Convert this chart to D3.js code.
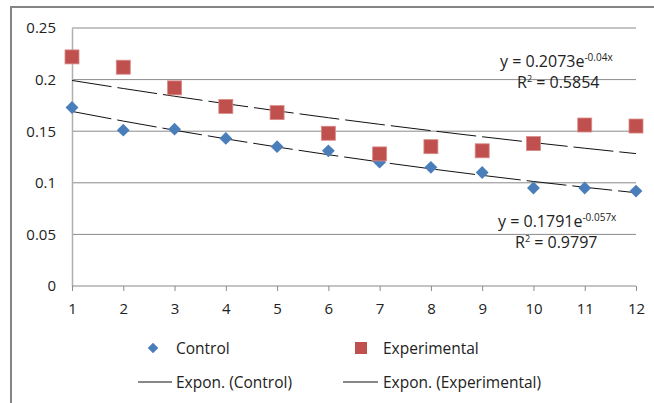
<!DOCTYPE html>
<html>
<head>
<meta charset="utf-8">
<script src="https://cdn.jsdelivr.net/npm/d3@7/dist/d3.min.js"></script>
<style>
  body { margin: 0; background: #fff; }
  text { font-family: "Open Sans", "Liberation Sans", sans-serif; fill: #222; }
</style>
</head>
<body>
<svg id="chart" width="654" height="403"></svg>
<script>
const days = [1, 2, 3, 4, 5, 6, 7, 8, 9, 10, 11, 12];
const control = [0.173, 0.151, 0.152, 0.143, 0.135, 0.131, 0.120, 0.115, 0.110, 0.095, 0.095, 0.092];
const experimental = [0.222, 0.212, 0.192, 0.174, 0.168, 0.148, 0.128, 0.135, 0.131, 0.138, 0.156, 0.155];
const yTicks = [0, 0.05, 0.1, 0.15, 0.2, 0.25];
const yTickLabels = ["0", "0.05", "0.1", "0.15", "0.2", "0.25"];
// fitted trendlines: y = a * e^(b x)
const controlFit = [0.1791, -0.057];
const experimentalFit = [0.2073, -0.04];

const svg = d3.select("#chart");

const x = d3.scaleLinear().domain([1, 12]).range([72, 636]);
const y = d3.scaleLinear().domain([0, 0.25]).range([286, 28]);

// outer frame (left + top)
svg.append("path")
  .attr("d", "M11,403V7H654")
  .attr("fill", "none")
  .attr("stroke", "#858585")
  .attr("stroke-width", 2);

// gridlines
svg.append("g")
  .selectAll("line")
  .data(yTicks.filter(d => d > 0))
  .join("line")
  .attr("x1", x(1))
  .attr("x2", x(12))
  .attr("y1", d => y(d))
  .attr("y2", d => y(d))
  .attr("stroke", "#8a8a8a")
  .attr("stroke-width", 1);

// y axis
const yAxis = d3.axisLeft(y)
  .tickValues(yTicks)
  .tickFormat((d, i) => yTickLabels[i])
  .tickSize(0)
  .tickPadding(16);
const gy = svg.append("g").attr("transform", `translate(${x(1)},0)`).call(yAxis);
gy.select(".domain").attr("stroke", "#b0b0b0").attr("stroke-width", 1.5);
gy.selectAll("text").attr("font-size", 15).attr("fill", "#222")
  .style("font-family", '"Open Sans", sans-serif');

// x axis
const xAxis = d3.axisBottom(x)
  .tickValues(days)
  .tickFormat(d3.format("d"))
  .tickSize(5)
  .tickPadding(12);
const gx = svg.append("g").attr("transform", `translate(0,${y(0)})`).call(xAxis);
gx.select(".domain").attr("stroke", "#8a8a8a").attr("d", `M${x(1)},0H${x(12)}`);
gx.selectAll(".tick line").attr("stroke", "#8a8a8a");
gx.selectAll("text").attr("font-size", 15).attr("fill", "#222")
  .style("font-family", '"Open Sans", sans-serif');

// trendlines
function trend(fit) {
  return days.map(d => [d, fit[0] * Math.exp(fit[1] * d)]);
}
const line = d3.line().x(d => x(d[0])).y(d => y(d[1]));
[controlFit, experimentalFit].forEach(fit => {
  svg.append("path")
    .attr("d", line(trend(fit)))
    .attr("fill", "none")
    .attr("stroke", "#111")
    .attr("stroke-width", 1)
    .attr("stroke-dasharray", "40,6");
});

// control markers (diamonds)
svg.append("g")
  .selectAll("path")
  .data(control)
  .join("path")
  .attr("d", d3.symbol(d3.symbolDiamond2, 105))
  .attr("transform", (d, i) => `translate(${x(days[i])},${y(d)})`)
  .attr("fill", "#4a7ebb");

// experimental markers (squares)
svg.append("g")
  .selectAll("rect")
  .data(experimental)
  .join("rect")
  .attr("x", (d, i) => x(days[i]) - 7)
  .attr("y", d => y(d) - 7)
  .attr("width", 14)
  .attr("height", 14)
  .attr("fill", "#c0504d")
  .attr("stroke", "#d98b89")
  .attr("stroke-width", 0.8);

// equations
function equation(xPos, yPos, a, expo, r2) {
  const t = svg.append("text")
    .attr("x", xPos)
    .attr("y", yPos)
    .attr("font-size", 16)
    .attr("fill", "#333");
  t.append("tspan").text("y = " + a + "e");
  t.append("tspan").attr("dy", -6).attr("font-size", 10).text(expo);
  const r = svg.append("text")
    .attr("x", xPos + 17)
    .attr("y", yPos + 21)
    .attr("font-size", 16)
    .attr("fill", "#333");
  r.append("tspan").text("R");
  r.append("tspan").attr("dy", -6).attr("font-size", 9).text("2");
  r.append("tspan").attr("dy", 6).text(" = " + r2);
}
equation(500, 67, experimentalFit[0], "-0.04x", "0.5854");
equation(498, 227, controlFit[0], "-0.057x", "0.9797");

// legend
const legend = svg.append("g").attr("font-size", 15.5);
legend.append("path")
  .attr("d", d3.symbol(d3.symbolDiamond2, 70))
  .attr("transform", "translate(153,348)")
  .attr("fill", "#4a7ebb");
legend.append("text").attr("x", 176).attr("y", 354).text("Control");
legend.append("rect")
  .attr("x", 355).attr("y", 342).attr("width", 12).attr("height", 12)
  .attr("fill", "#c0504d");
legend.append("text").attr("x", 383).attr("y", 354).text("Experimental");
legend.append("line")
  .attr("x1", 138).attr("x2", 172).attr("y1", 382).attr("y2", 382)
  .attr("stroke", "#111").attr("stroke-width", 1);
legend.append("text").attr("x", 176).attr("y", 388).text("Expon. (Control)");
legend.append("line")
  .attr("x1", 343).attr("x2", 378).attr("y1", 382).attr("y2", 382)
  .attr("stroke", "#111").attr("stroke-width", 1);
legend.append("text").attr("x", 383).attr("y", 388).text("Expon. (Experimental)");
</script>
</body>
</html>
